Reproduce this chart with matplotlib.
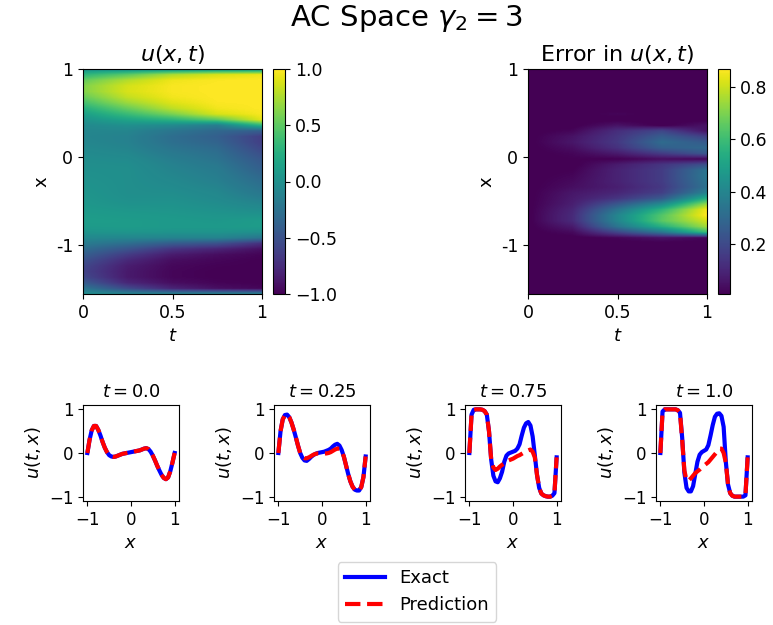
import numpy as np
import matplotlib
matplotlib.use("Agg")
import matplotlib.pyplot as plt

# ---------------- data ----------------
x_grid = np.linspace(-1, 1, 41)          # spatial grid (step 0.05)
t_slices = [0.0, 0.25, 0.5, 0.75, 1.0]   # time slices

exact_t000 = [0.0, 0.30, 0.52, 0.62, 0.62, 0.53, 0.40, 0.25, 0.12, 0.02,
              -0.05, -0.08, -0.09, -0.08, -0.06, -0.04, -0.02, -0.01, 0.0, 0.01,
              0.02, 0.03, 0.04, 0.05, 0.06, 0.08, 0.10, 0.11, 0.09, 0.03,
              -0.06, -0.17, -0.29, -0.40, -0.50, -0.57, -0.60, -0.56, -0.42, -0.22,
              0.0]
pred_t000 = [0.0, 0.30, 0.52, 0.62, 0.62, 0.53, 0.40, 0.25, 0.12, 0.02,
             -0.05, -0.08, -0.09, -0.08, -0.06, -0.04, -0.02, -0.01, 0.0, 0.01,
             0.02, 0.03, 0.04, 0.05, 0.06, 0.08, 0.10, 0.11, 0.09, 0.03,
             -0.06, -0.17, -0.29, -0.40, -0.50, -0.57, -0.60, -0.56, -0.42, -0.22,
             0.0]

exact_t025 = [0.0, 0.50, 0.77, 0.87, 0.88, 0.82, 0.70, 0.54, 0.36, 0.17,
              0.0, -0.11, -0.17, -0.18, -0.14, -0.09, -0.05, -0.02, 0.0, 0.01,
              0.02, 0.03, 0.05, 0.07, 0.10, 0.15, 0.19, 0.21, 0.17, 0.07,
              -0.08, -0.28, -0.48, -0.65, -0.77, -0.84, -0.86, -0.86, -0.78, -0.55,
              -0.08]
pred_t025 = [0.0, 0.50, 0.77, 0.87, 0.88, 0.82, 0.70, 0.54, 0.36, 0.17,
             0.0, -0.09, -0.12, -0.12, -0.10, -0.07, -0.04, -0.02, -0.01, -0.01,
             -0.01, -0.01, -0.01, 0.0, 0.02, 0.05, 0.08, 0.10, 0.10, 0.04,
             -0.08, -0.28, -0.48, -0.65, -0.77, -0.84, -0.86, -0.86, -0.78, -0.55,
             -0.08]

exact_t050 = [0.0, 0.75, 0.95, 0.98, 0.98, 0.96, 0.90, 0.80, 0.62, 0.30,
              -0.10, -0.34, -0.42, -0.42, -0.36, -0.26, -0.14, -0.05, -0.01, 0.01,
              0.03, 0.04, 0.08, 0.14, 0.26, 0.38, 0.46, 0.48, 0.42, 0.22,
              -0.08, -0.42, -0.70, -0.85, -0.93, -0.96, -0.97, -0.97, -0.93, -0.80,
              -0.10]
pred_t050 = [0.0, 0.75, 0.95, 0.98, 0.98, 0.96, 0.90, 0.80, 0.60, 0.30,
             -0.05, -0.22, -0.28, -0.27, -0.23, -0.19, -0.15, -0.12, -0.10, -0.08,
             -0.06, -0.04, -0.02, 0.0, 0.02, 0.04, 0.06, 0.08, 0.08, 0.03,
             -0.10, -0.42, -0.70, -0.85, -0.93, -0.96, -0.97, -0.97, -0.93, -0.80,
             -0.10]

exact_t075 = [0.0, 0.88, 0.99, 1.0, 1.0, 1.0, 0.99, 0.96, 0.88, 0.50,
              -0.15, -0.52, -0.65, -0.67, -0.58, -0.43, -0.20, -0.06, -0.01, 0.01,
              0.03, 0.05, 0.10, 0.20, 0.40, 0.58, 0.68, 0.71, 0.63, 0.38,
              -0.05, -0.50, -0.80, -0.93, -0.97, -0.99, -1.0, -1.0, -0.98, -0.92,
              -0.10]
pred_t075 = [0.0, 0.88, 0.99, 1.0, 1.0, 1.0, 0.99, 0.96, 0.88, 0.50,
             -0.15, -0.33, -0.39, -0.36, -0.31, -0.27, -0.24, -0.20, -0.17, -0.15,
             -0.13, -0.10, -0.07, -0.05, -0.02, 0.01, 0.04, 0.06, 0.08, 0.03,
             -0.10, -0.50, -0.80, -0.93, -0.97, -0.99, -1.0, -1.0, -0.98, -0.92,
             -0.10]

exact_t100 = [0.0, 0.95, 1.0, 1.0, 1.0, 1.0, 1.0, 1.0, 0.98, 0.92,
              0.35, -0.45, -0.80, -0.88, -0.88, -0.76, -0.48, -0.20, -0.04, 0.02,
              0.05, 0.08, 0.18, 0.40, 0.64, 0.83, 0.90, 0.91, 0.85, 0.60,
              -0.20, -0.72, -0.92, -0.98, -1.0, -1.0, -1.0, -1.0, -1.0, -0.97,
              -0.10]
pred_t100 = [0.0, 0.95, 1.0, 1.0, 1.0, 1.0, 1.0, 1.0, 0.98, 0.92,
             0.30, -0.40, -0.63, -0.63, -0.58, -0.52, -0.46, -0.42, -0.38, -0.33,
             -0.29, -0.25, -0.21, -0.15, -0.09, -0.03, 0.03, 0.10, 0.10, 0.0,
             -0.22, -0.72, -0.92, -0.98, -1.0, -1.0, -1.0, -1.0, -1.0, -0.97,
             -0.10]

exact_slices = [exact_t000, exact_t025, exact_t050, exact_t075, exact_t100]
pred_slices = [pred_t000, pred_t025, pred_t050, pred_t075, pred_t100]
plot_times = [0.0, 0.25, 0.75, 1.0]
plot_titles = ["$t=0.0$", "$t=0.25$", "$t=0.75$", "$t=1.0$"]
plot_index = [0, 1, 3, 4]

hm_xticks = [0, 0.5, 1]
hm_xticklabels = ["0", "0.5", "1"]
hm_yticks = [1, 0, -1]
hm_yticklabels = ["1", "0", "-1"]

# ---------------- figure ----------------
W, H = 773, 625
fig = plt.figure(figsize=(W / 100, H / 100), dpi=100)

def fx(px):
    return px / W

def fy(px):
    return 1 - px / H

U_pred = np.column_stack([np.asarray(p) for p in pred_slices])
U_exact = np.column_stack([np.asarray(e) for e in exact_slices])
U_err = np.abs(U_exact - U_pred)

hm_top, hm_bottom = 1.0, -1.56
nrow = U_pred.shape[0]
dy = (hm_top - hm_bottom) / (nrow - 1)
dt = t_slices[1] - t_slices[0]
extent = [t_slices[0] - dt / 2, t_slices[-1] + dt / 2,
          hm_bottom - dy / 2, hm_top + dy / 2]

ax_top, ax_bot = 69, 294
heat_specs = [
    (83, 262, 273, U_pred, "$u(x,t)$", dict(vmin=-1, vmax=1)),
    (528, 707, 718, U_err, "Error in $u(x,t)$", dict(vmin=0.008)),
]
for left, right, cleft, data, title, kw in heat_specs:
    ax = fig.add_axes([fx(left), fy(ax_bot), fx(right - left), (ax_bot - ax_top) / H])
    im = ax.imshow(data, extent=extent, origin="upper", aspect="auto",
                   cmap="viridis", interpolation="bilinear",
                   interpolation_stage="data", **kw)
    ax.set_xlim(t_slices[0], t_slices[-1])
    ax.set_ylim(hm_bottom, hm_top)
    ax.set_xticks(hm_xticks)
    ax.set_xticklabels(hm_xticklabels)
    ax.set_yticks(hm_yticks)
    ax.set_yticklabels(hm_yticklabels)
    ax.tick_params(labelsize=12.5)
    ax.set_xlabel("$t$", fontsize=13)
    ax.set_ylabel("x", fontsize=13)
    ax.set_title(title, fontsize=16)
    cax = fig.add_axes([fx(cleft), fy(ax_bot), fx(12), (ax_bot - ax_top) / H])
    cb = fig.colorbar(im, cax=cax)
    cb.ax.tick_params(labelsize=12.5)

# line plots
line_lefts = [83, 274, 465, 656]
lw_px, lt, lb = 96, 405, 501
handles = None
for i, left in enumerate(line_lefts):
    ax = fig.add_axes([fx(left), fy(lb), fx(lw_px), (lb - lt) / H])
    k = plot_index[i]
    h1, = ax.plot(x_grid, exact_slices[k], "b-", lw=3, label="Exact")
    h2, = ax.plot(x_grid, pred_slices[k], "r--", lw=3, label="Prediction")
    handles = [h1, h2]
    ax.set_xlim(-1.1, 1.1)
    ax.set_ylim(-1.1, 1.1)
    ax.set_xticks([-1, 0, 1])
    ax.set_yticks([-1, 0, 1])
    ax.tick_params(labelsize=12)
    ax.set_title(plot_titles[i], fontsize=13)
    ax.set_xlabel("$x$", fontsize=13)
    ax.set_ylabel("$u(t,x)$", fontsize=13)

fig.legend(handles, ["Exact", "Prediction"], loc="upper center",
           bbox_to_anchor=(fx(417), fy(553)), fontsize=13, handlelength=2.2)

fig.text(fx(406), fy(18), r"AC Space $\gamma_2 = 3$", ha="center", va="center", fontsize=21)

fig.savefig("out.png", dpi=100)
